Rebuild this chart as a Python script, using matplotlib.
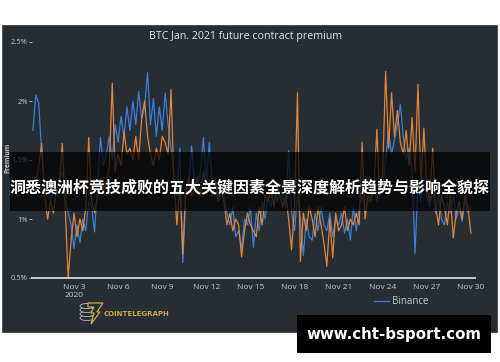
import numpy as np
import matplotlib.pyplot as plt
from matplotlib.patches import Rectangle, Ellipse, Polygon

# time axis: days since Oct 31 2020, one sample every 0.2 day
days = np.round(np.arange(0.2, 30.01, 0.2), 1)

# premium in % (5 samples per day)
binance = [1.75, 2.05, 1.98, 1.55, 1.30,
           1.25, 1.15, 1.30, 1.20, 1.35,
           1.40, 1.20, 1.05, 0.95, 0.75,
           0.95, 0.80, 1.00, 0.90, 1.15,
           1.10, 0.89, 1.30, 1.69, 1.45,
           1.55, 1.70, 1.50, 1.80, 1.65,
           1.87, 1.70, 1.95, 1.75, 2.00,
           1.80, 2.08, 1.85, 1.95, 2.24,
           1.80, 2.02, 1.70, 1.95, 1.75,
           2.07, 1.80, 1.60, 1.35, 1.20,
           1.60, 0.63, 1.20, 1.30, 1.62,
           1.30, 1.25, 1.40, 1.69, 1.30,
           1.65, 1.30, 1.35, 1.20, 1.30,
           1.20, 1.05, 0.95, 1.10, 0.85,
           0.90, 0.75, 1.00, 0.95, 1.10,
           0.76, 1.05, 0.90, 1.15, 1.00,
           1.20, 1.10, 1.30, 1.15, 1.25,
           1.20, 1.10, 1.58, 1.05, 0.90,
           1.20, 1.00, 0.69, 1.00, 0.85,
           0.82, 1.05, 0.90, 1.10, 0.95,
           0.90, 1.05, 0.85, 1.00, 0.95,
           1.05, 0.88, 1.00, 0.82, 1.10,
           0.90, 1.10, 1.20, 1.05, 1.15,
           1.20, 1.30, 1.15, 1.35, 1.25,
           1.50, 1.75, 1.55, 1.67, 1.80,
           1.97, 1.70, 1.50, 1.60, 1.40,
           0.71, 1.30, 1.15, 1.35, 1.20,
           1.10, 1.25, 1.05, 1.20, 1.00,
           0.95, 1.15, 1.05, 1.20, 1.00,
           1.10, 0.98, 1.15, 1.05, 1.10]

okex = [1.25, 1.30, 1.45, 1.64, 1.20,
        1.00, 1.15, 1.05, 1.25, 1.30,
        1.64, 1.10, 0.50, 0.82, 1.05,
        0.85, 1.00, 0.90, 1.10, 1.69,
        1.15, 1.05, 1.20, 1.35, 1.25,
        1.30, 1.45, 2.15, 1.40, 1.55,
        1.45, 1.74, 1.55, 1.60, 1.50,
        1.70, 1.50, 1.85, 2.00, 1.70,
        1.55, 1.45, 1.60, 1.50, 1.70,
        1.65, 1.55, 2.10, 1.30, 0.95,
        1.30, 0.70, 1.25, 1.35, 1.20,
        1.25, 1.35, 1.20, 1.40, 1.25,
        1.30, 1.20, 1.30, 1.15, 1.25,
        1.15, 0.95, 1.05, 0.90, 1.00,
        0.95, 0.68, 0.90, 1.05, 0.95,
        0.90, 0.85, 1.10, 0.95, 1.20,
        1.15, 1.25, 1.10, 1.30, 1.20,
        1.10, 1.20, 1.00, 0.74, 1.10,
        2.07, 0.64, 1.05, 0.90, 1.10,
        1.00, 0.85, 1.10, 0.95, 0.80,
        0.60, 1.00, 0.67, 1.05, 0.90,
        0.95, 1.10, 0.90, 1.00, 0.95,
        1.05, 0.95, 1.65, 1.00, 1.20,
        1.15, 1.25, 1.76, 1.20, 1.40,
        2.25, 1.60, 2.07, 1.70, 1.92,
        1.65, 1.55, 1.75, 1.45, 1.86,
        1.40, 2.14, 1.30, 1.77, 1.25,
        1.15, 1.60, 1.10, 0.95, 1.20,
        1.10, 0.95, 1.20, 0.84, 1.05,
        1.15, 1.00, 1.20, 1.10, 0.88]

xticks = [3, 6, 9, 12, 15, 18, 21, 24, 27, 30]
xlabels = ['Nov 3\n2020', 'Nov 6', 'Nov 9', 'Nov 12', 'Nov 15',
           'Nov 18', 'Nov 21', 'Nov 24', 'Nov 27', 'Nov 30']
yticks = [0.5, 1.0, 1.5, 2.0, 2.5]
ylabels = ['0.5%', '1%', '1.5%', '2%', '2.5%']

W, H = 500, 362
def fx(x): return x / W
def fy(y): return 1 - y / H

panel = '#262d33'
grey = '#c5c9cc'
blue = '#3b7fd9'
orange = '#e2853a'

plt.rcParams['font.family'] = ['Open Sans', 'DejaVu Sans']

fig = plt.figure(figsize=(5, 3.62), dpi=100, facecolor='white')

# dark chart card
fig.add_artist(Rectangle((fx(2), fy(332)), fx(495), 307 / H, facecolor=panel,
                         edgecolor='#3a4148', lw=0.6, zorder=-5))

ax = fig.add_axes([fx(32), fy(278), fx(443), 236 / H])
ax.patch.set_alpha(0)
l1, = ax.plot(days, binance, color=blue, lw=0.9)
l2, = ax.plot(days, okex, color=orange, lw=0.9)
ax.set_xlim(0.14, 30.28)
ax.set_ylim(0.5, 2.5)
ax.set_xticks(xticks)
ax.set_xticklabels(xlabels, fontsize=6, color=grey, linespacing=1.3)
ax.set_yticks(yticks)
ax.set_yticklabels(ylabels, fontsize=5.4, color=grey)
ax.tick_params(axis='x', length=0, pad=4)
ax.tick_params(axis='y', length=2, width=0.6, color=grey, pad=1)
for s in ['top', 'right', 'left']:
    ax.spines[s].set_visible(False)
ax.spines['bottom'].set_color('#c8ccd0')
ax.spines['bottom'].set_linewidth(1.4)
fig.text(fx(246), fy(36), 'BTC Jan. 2021 future contract premium', fontsize=7.7,
         color='#e4e6e8', ha='center', va='center')
fig.text(fx(8), fy(158), 'Premium', rotation=90, fontsize=4.8, color=grey,
         fontweight='bold', ha='center', va='center')

# legend (second entry sits under the url box, as in the source)
fig.legend([l1, l2], ['Binance', 'OKEx'], loc='upper left',
           bbox_to_anchor=(fx(374), fy(296)), frameon=False, fontsize=7,
           labelcolor=grey, handlelength=1.5, handletextpad=0.4,
           labelspacing=1.0, borderaxespad=0, borderpad=0)

# cointelegraph mark
for i, cy in enumerate([318, 314, 310, 306]):
    fig.add_artist(Ellipse((fx(87), fy(cy)), fx(14), 5 / H, facecolor=panel,
                           edgecolor='#b9bdc1', lw=0.6, zorder=3 + i))
fig.add_artist(Polygon([(fx(88), fy(303)), (fx(103), fy(303)), (fx(97), fy(312)),
                        (fx(100), fy(312)), (fx(91), fy(324)), (fx(94), fy(313)),
                        (fx(91), fy(313)), (fx(94), fy(307)), (fx(88), fy(307))],
                       closed=True, facecolor=panel, edgecolor='#d4a83c',
                       lw=0.9, zorder=8))
fig.text(fx(104), fy(313.5), 'COINTELEGRAPH', fontsize=5, color='#d0a843',
         fontweight='bold', ha='left', va='center', family='DejaVu Sans')

# caption banner
fig.add_artist(Rectangle((fx(10), fy(211)), fx(480), 59 / H, facecolor='black',
                         alpha=0.72, lw=0, zorder=10))
fig.text(fx(250), fy(187), '洞悉澳洲杯竞技成败的五大关键因素全景深度解析趋势与影响全貌探',
         fontsize=11.5, color='white', fontweight='bold', ha='center', va='center',
         family=['Noto Sans CJK SC', 'DejaVu Sans'], zorder=11)

# url box
fig.add_artist(Rectangle((fx(297), fy(353)), fx(194), 38 / H, facecolor='black',
                         lw=0, zorder=10))
fig.text(fx(394), fy(335), 'www.cht-bsport.com', fontsize=10.8, color='white',
         fontweight='bold', ha='center', va='center', family='DejaVu Sans', zorder=11)

fig.savefig('out.png', dpi=100, facecolor='white')
